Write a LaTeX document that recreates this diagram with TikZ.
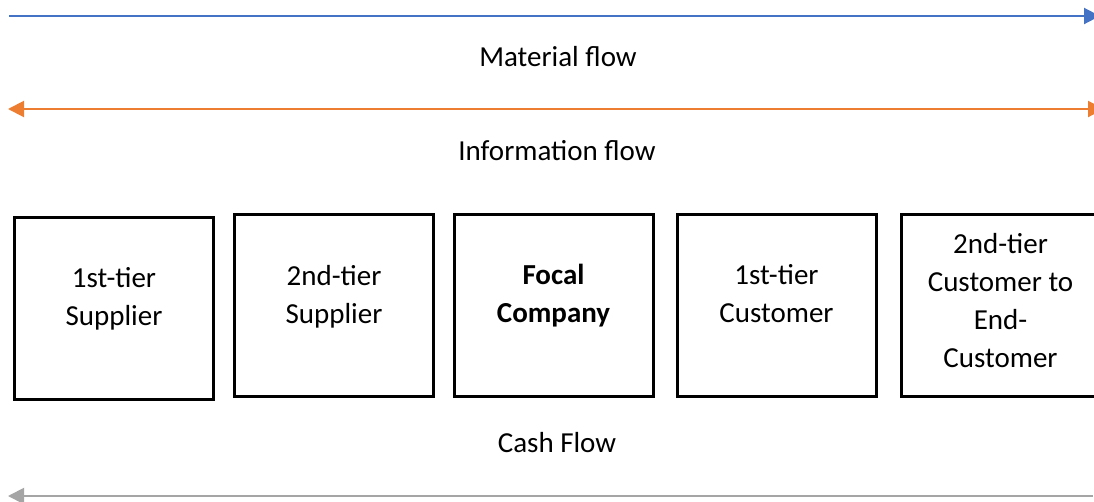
\documentclass[tikz,border=0pt]{standalone}
\usepackage{fontspec}
\setmainfont{Carlito}
\usetikzlibrary{arrows.meta}

\definecolor{flowblue}{HTML}{4472C4}
\definecolor{floworange}{HTML}{ED7D31}
\definecolor{flowgrey}{HTML}{A5A5A5}

\begin{document}
\begin{tikzpicture}[
  x=1pt, y=-1pt,
  stagebox/.style={draw=black, line width=3pt, minimum width=199pt,
    minimum height=182pt, inner sep=0pt},
  boxtext/.style={align=center, inner sep=0pt,
    font=\fontsize{29}{38}\selectfont},
  flowlabel/.style={anchor=base, inner sep=0pt,
    font=\fontsize{29}{38}\selectfont},
  flowtip/.tip={Triangle[length=16pt, width=16pt]},
  matflow/.style={draw=flowblue, line width=2pt, -{flowtip}},
  infoflow/.style={draw=floworange, line width=2pt, {flowtip}-{flowtip}},
  cashflow/.style={draw=flowgrey, line width=2pt, {flowtip}-}
]
\useasboundingbox (0,0) rectangle (1094,501);

% material flow (left to right)
\coordinate (mL) at (9,16);
\coordinate (mR) at (1100,16);
\draw[matflow] (mL) -- (mR);
\node[flowlabel] (mlab) at (558,66.7) {Material flow};

% information flow (both ways)
\coordinate (iL) at (8,109);
\coordinate (iR) at (1104,109);
\draw[infoflow] (iL) -- (iR);
\node[flowlabel] (ilab) at (557,160.7) {Information flow};

% supply chain stages
\node[stagebox] (b1) at (114,308.5) {};
\node[stagebox] (b2) at (334,305.5) {};
\node[stagebox] (b3) at (553.5,305.5) {};
\node[stagebox] (b4) at (776.5,305.5) {};
\node[stagebox] (b5) at (1000.5,305.5) {};

\node[boxtext] (t1) at (114,298.6) {\strut 1st-tier\\\strut Supplier};
\node[boxtext] (t2) at (334,296.6) {\strut 2nd-tier\\\strut Supplier};
\node[boxtext] (t3) at (553.5,296.2) {\strut\textbf{Focal}\\\strut\textbf{Company}};
\node[boxtext] (t4) at (776.5,296.3) {\strut 1st-tier\\\strut Customer};
\node[boxtext] (t5) at (1000.5,302.4) {\strut 2nd-tier\\\strut Customer to\\\strut End-\\\strut Customer};

% cash flow (right to left)
\node[flowlabel] (clab) at (557,452) {Cash Flow};
\coordinate (cL) at (8,496);
\coordinate (cR) at (1093,496);
\draw[cashflow] (cL) -- (cR);
\end{tikzpicture}
\end{document}
